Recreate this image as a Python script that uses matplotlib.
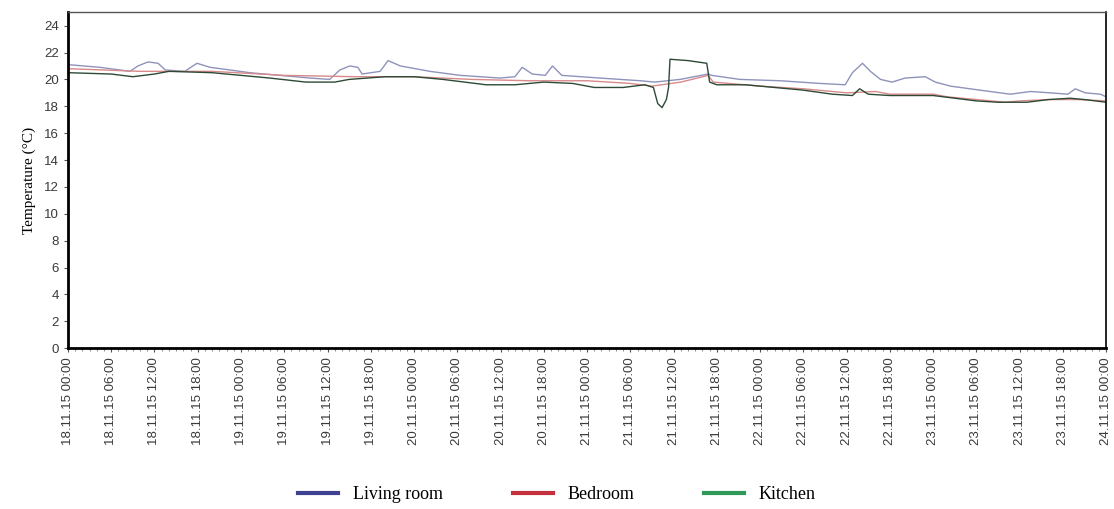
import datetime as dt
import matplotlib
matplotlib.use('Agg')
import matplotlib.pyplot as plt
import matplotlib.dates as mdates
from matplotlib.lines import Line2D

# hours since 18.11.15 00:00 and temperatures (°C)
living_h = [0, 4.4, 8.6, 9.7, 11.1, 12.5, 13.5, 16.2, 17.9, 19.7, 22.5, 25.2, 29.4, 33.6, 36.3,
            37.7, 39.1, 40.2, 40.8, 43.3, 44.4, 46.1, 50.2, 54.4, 59.9, 62.0, 63.0, 64.4, 66.2,
            67.2, 68.5, 73.8, 79.4, 81.4, 84.9, 88.8, 89.3, 93.2, 98.8, 104.3, 107.8, 108.8,
            110.2, 111.3, 112.7, 114.3, 116.1, 118.9, 120.3, 122.4, 126.5, 130.7, 133.5, 136.2,
            138.7, 139.7, 141.1, 143.2, 144]
living_t = [21.1, 20.9, 20.6, 21.0, 21.3, 21.2, 20.7, 20.6, 21.2, 20.9, 20.7, 20.5, 20.3, 20.1, 20.0,
            20.7, 21.0, 20.9, 20.4, 20.6, 21.4, 21.0, 20.6, 20.3, 20.1, 20.2, 20.9, 20.4, 20.3,
            21.0, 20.3, 20.1, 19.9, 19.8, 20.0, 20.4, 20.3, 20.0, 19.9, 19.7, 19.6, 20.5,
            21.2, 20.6, 20.0, 19.8, 20.1, 20.2, 19.8, 19.5, 19.2, 18.9, 19.1, 19.0,
            18.9, 19.3, 19.0, 18.9, 18.7]

bedroom_h = [0, 10, 20, 30, 40, 48, 56, 64, 72, 78, 81, 85, 88.8, 89.5, 96, 102, 108, 112, 114,
             120, 122, 126, 130, 132, 136, 140, 144]
bedroom_t = [20.8, 20.6, 20.6, 20.3, 20.2, 20.2, 20.0, 19.9, 19.9, 19.7, 19.5, 19.8, 20.3, 19.8,
             19.5, 19.3, 19.0, 19.1, 18.9, 18.9, 18.7, 18.5, 18.3, 18.4, 18.5, 18.5, 18.4]

kitchen_h = [0, 6, 9, 12, 14, 20, 24, 28, 33, 37, 39, 44, 48, 52, 55, 58, 62, 66, 70, 73, 77, 80,
             81.2, 81.8, 82.4, 83.0, 83.3, 83.5, 86, 88.6, 89.0, 90, 94, 98, 102, 106, 108.8,
             109.8, 111, 114, 120, 123, 126, 129, 133, 136, 139, 141, 144]
kitchen_t = [20.5, 20.4, 20.2, 20.4, 20.6, 20.5, 20.3, 20.1, 19.8, 19.8, 20.0, 20.2, 20.2, 20.0,
             19.8, 19.6, 19.6, 19.8, 19.7, 19.4, 19.4, 19.6, 19.4, 18.2, 17.9, 18.5, 19.4, 21.5,
             21.4, 21.2, 19.8, 19.6, 19.6, 19.4, 19.2, 18.9, 18.8, 19.3, 18.9, 18.8, 18.8, 18.6,
             18.4, 18.3, 18.3, 18.5, 18.6, 18.5, 18.3]

series_names = ['Living room', 'Bedroom', 'Kitchen']
line_colours = ['#8f93bb', '#d88a8a', '#2d4a36']
legend_colours = ['#3f4190', '#c3313f', '#2f9a57']

start = dt.datetime(2015, 11, 18)


def to_time(hours):
    return [start + dt.timedelta(hours=h) for h in hours]


fig = plt.figure(figsize=(11.14, 5.09), dpi=100)
ax = fig.add_axes([0.061, 0.316, 0.932, 0.66])

for hrs, temps, c in zip([living_h, bedroom_h, kitchen_h],
                         [living_t, bedroom_t, kitchen_t], line_colours):
    ax.plot(to_time(hrs), temps, color=c, lw=1.0)

ax.set_xlim(start, start + dt.timedelta(days=6))
ax.set_ylim(0, 25)
ax.set_yticks(range(0, 25, 2))
ax.xaxis.set_major_locator(mdates.HourLocator(byhour=[0, 6, 12, 18]))
ax.xaxis.set_minor_locator(mdates.HourLocator())
ax.xaxis.set_major_formatter(mdates.DateFormatter('%d.%m.%y %H:%M'))

for lbl in ax.get_xticklabels():
    lbl.set_rotation(90)
ax.tick_params(axis='both', labelsize=9.5, labelcolor='#3a3a3a', color='#555555',
               length=3, width=0.8, direction='out')
ax.tick_params(axis='x', which='minor', length=2, width=0.6, color='#777777')
for lbl in ax.get_xticklabels() + ax.get_yticklabels():
    lbl.set_family('Liberation Sans')

ax.spines['left'].set_linewidth(2.0)
ax.spines['bottom'].set_linewidth(2.0)
ax.spines['top'].set_linewidth(1.0)
ax.spines['top'].set_color('#555555')
ax.spines['right'].set_linewidth(1.2)

ax.set_ylabel('Temperature (°C)', family='Liberation Serif', fontsize=11, labelpad=6)

handles = [Line2D([], [], color=c, lw=3.0) for c in legend_colours]
fig.legend(handles, series_names, loc='lower center', bbox_to_anchor=(0.5, -0.02), ncol=3,
           frameon=False, prop={'family': 'Liberation Serif', 'size': 13},
           handlelength=2.2, columnspacing=3.9)

fig.savefig('out.png', dpi=100)
